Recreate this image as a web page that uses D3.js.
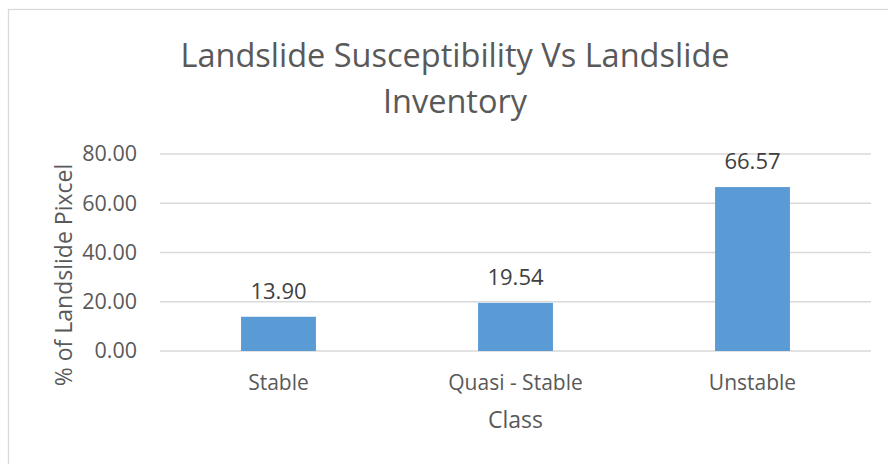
<!DOCTYPE html>
<html>
<head>
<meta charset="utf-8">
<script src="https://cdn.jsdelivr.net/npm/d3@7"></script>
<style>
  body { margin: 0; background: #fff; }
  svg { display: block; font-family: "Open Sans", sans-serif; }
</style>
</head>
<body>
<div id="chart"></div>
<script>
// data
const categories = ["Stable", "Quasi - Stable", "Unstable"];
const values = [13.90, 19.54, 66.57];
const yTicks = [0, 20, 40, 60, 80];
const titleLines = ["Landslide Susceptibility Vs Landslide", "Inventory"];

const width = 888, height = 464;
const margin = { left: 160, right: 17, top: 154, bottom: 113 };
const plotW = width - margin.left - margin.right;
const plotH = height - margin.top - margin.bottom;

const svg = d3.select("#chart").append("svg")
    .attr("width", width)
    .attr("height", height);

svg.append("rect")
    .attr("width", width).attr("height", height)
    .attr("fill", "#fff");

// chart border (runs off right/bottom)
svg.append("rect")
    .attr("x", 8.5).attr("y", 9.5)
    .attr("width", 1000).attr("height", 1000)
    .attr("fill", "none")
    .attr("stroke", "#d9d9d9")
    .attr("stroke-width", 1.3);

// title
svg.append("text")
    .attr("fill", "#595959")
    .attr("font-size", 32.5)
    .attr("text-anchor", "middle")
    .selectAll("tspan")
    .data(titleLines)
    .join("tspan")
    .attr("x", 455)
    .attr("y", (d, i) => 67 + i * 46)
    .text(d => d);

const x = d3.scaleBand()
    .domain(categories)
    .range([margin.left, margin.left + plotW])
    .paddingInner(0.684)
    .paddingOuter(0.342);

const y = d3.scaleLinear()
    .domain([0, 80])
    .range([margin.top + plotH, margin.top]);

// gridlines
svg.append("g")
    .selectAll("line")
    .data(yTicks)
    .join("line")
    .attr("x1", margin.left)
    .attr("x2", margin.left + plotW)
    .attr("y1", d => y(d))
    .attr("y2", d => y(d))
    .attr("stroke", "#d9d9d9")
    .attr("stroke-width", 1.3);

// y axis labels
const yAxis = d3.axisLeft(y).tickValues(yTicks).tickFormat(d3.format(".2f")).tickSize(0).tickPadding(23);
svg.append("g")
    .attr("transform", `translate(${margin.left},0)`)
    .call(yAxis)
    .call(g => g.select(".domain").remove())
    .call(g => g.selectAll("text")
        .attr("font-family", "Open Sans, sans-serif")
        .attr("font-size", 21.5)
        .attr("fill", "#595959"));

// x axis labels
const xAxis = d3.axisBottom(x).tickSize(0).tickPadding(0);
svg.append("g")
    .attr("transform", `translate(0,${y(0)})`)
    .call(xAxis)
    .call(g => g.select(".domain").remove())
    .call(g => g.selectAll("text")
        .attr("font-family", "Open Sans, sans-serif")
        .attr("font-size", 21)
        .attr("fill", "#595959")
        .attr("dy", null)
        .attr("y", 39));

// bars
svg.append("g")
    .selectAll("rect")
    .data(values)
    .join("rect")
    .attr("x", (d, i) => x(categories[i]))
    .attr("width", x.bandwidth())
    .attr("y", d => y(d))
    .attr("height", d => y(0) - y(d))
    .attr("fill", "#5b9bd5");

// data labels
svg.append("g")
    .selectAll("text")
    .data(values)
    .join("text")
    .attr("x", (d, i) => x(categories[i]) + x.bandwidth() / 2)
    .attr("y", d => y(d) - 18)
    .attr("text-anchor", "middle")
    .attr("font-size", 22)
    .attr("fill", "#404040")
    .text(d => d3.format(".2f")(d));

// axis titles
svg.append("text")
    .attr("x", x.range()[0] + plotW / 2)
    .attr("y", 428)
    .attr("text-anchor", "middle")
    .attr("font-size", 23)
    .attr("fill", "#595959")
    .text("Class");

svg.append("text")
    .attr("transform", `translate(72,275) rotate(-90)`)
    .attr("text-anchor", "middle")
    .attr("font-size", 23)
    .attr("fill", "#595959")
    .text("% of Landslide Pixcel");
</script>
</body>
</html>
